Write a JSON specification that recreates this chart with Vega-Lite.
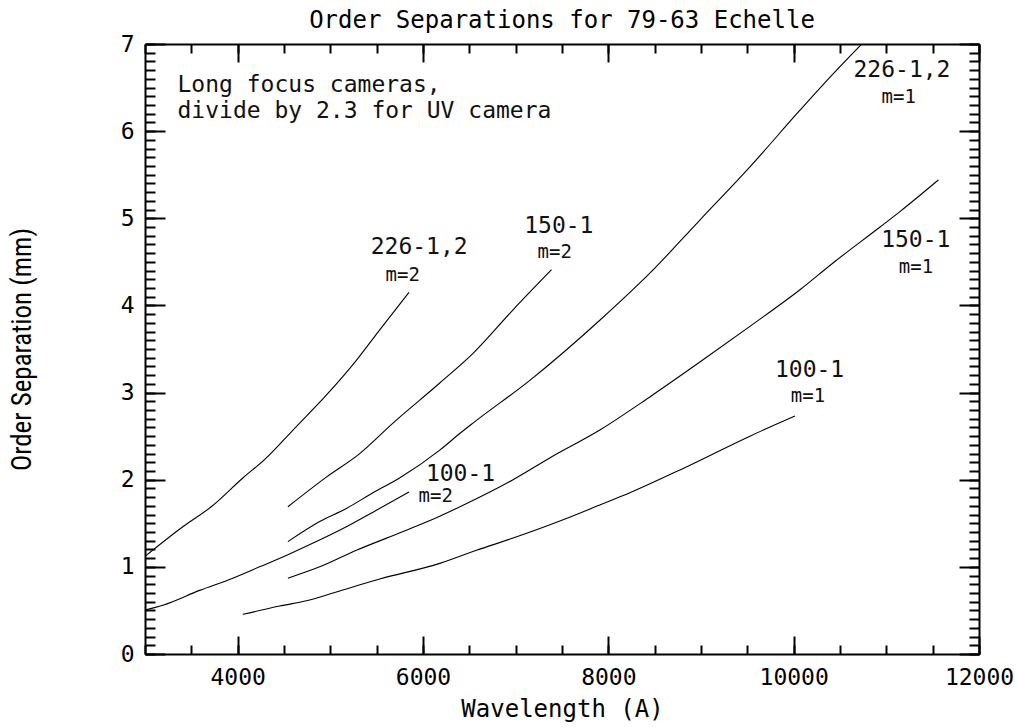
{
  "$schema": "https://vega.github.io/schema/vega-lite/v6.json",
  "autosize": "none",
  "width": 834,
  "height": 610,
  "padding": {"left": 145, "top": 44, "right": 39, "bottom": 73},
  "background": "white",
  "title": {"text": "Order Separations for 79-63 Echelle", "font": "DejaVu Sans Mono", "fontSize": 24, "fontWeight": "normal", "anchor": "middle", "frame": "group", "offset": 0, "color": "black"},
  "datasets": {
    "curves": [
      {"s": "226-1,2 m=2", "w": 3000, "sep": 1.12},
      {"s": "226-1,2 m=2", "w": 3408, "sep": 1.46},
      {"s": "226-1,2 m=2", "w": 3715, "sep": 1.69},
      {"s": "226-1,2 m=2", "w": 4056, "sep": 2.02},
      {"s": "226-1,2 m=2", "w": 4290, "sep": 2.23},
      {"s": "226-1,2 m=2", "w": 4633, "sep": 2.61},
      {"s": "226-1,2 m=2", "w": 4939, "sep": 2.95},
      {"s": "226-1,2 m=2", "w": 5281, "sep": 3.37},
      {"s": "226-1,2 m=2", "w": 5533, "sep": 3.72},
      {"s": "226-1,2 m=2", "w": 5849, "sep": 4.15},
      {"s": "150-1 m=2", "w": 4542, "sep": 1.69},
      {"s": "150-1 m=2", "w": 4957, "sep": 2.03},
      {"s": "150-1 m=2", "w": 5317, "sep": 2.3},
      {"s": "150-1 m=2", "w": 5676, "sep": 2.65},
      {"s": "150-1 m=2", "w": 6181, "sep": 3.11},
      {"s": "150-1 m=2", "w": 6540, "sep": 3.45},
      {"s": "150-1 m=2", "w": 6972, "sep": 3.95},
      {"s": "150-1 m=2", "w": 7387, "sep": 4.41},
      {"s": "226-1,2 m=1", "w": 4542, "sep": 1.29},
      {"s": "226-1,2 m=1", "w": 4885, "sep": 1.52},
      {"s": "226-1,2 m=1", "w": 5173, "sep": 1.67},
      {"s": "226-1,2 m=1", "w": 5460, "sep": 1.85},
      {"s": "226-1,2 m=1", "w": 5747, "sep": 2.02},
      {"s": "226-1,2 m=1", "w": 6181, "sep": 2.34},
      {"s": "226-1,2 m=1", "w": 6397, "sep": 2.53},
      {"s": "226-1,2 m=1", "w": 6540, "sep": 2.65},
      {"s": "226-1,2 m=1", "w": 7153, "sep": 3.14},
      {"s": "226-1,2 m=1", "w": 7908, "sep": 3.83},
      {"s": "226-1,2 m=1", "w": 8448, "sep": 4.37},
      {"s": "226-1,2 m=1", "w": 8988, "sep": 4.98},
      {"s": "226-1,2 m=1", "w": 9528, "sep": 5.59},
      {"s": "226-1,2 m=1", "w": 10068, "sep": 6.24},
      {"s": "226-1,2 m=1", "w": 10428, "sep": 6.66},
      {"s": "226-1,2 m=1", "w": 10735, "sep": 7.0},
      {"s": "100-1 m=2", "w": 3000, "sep": 0.505},
      {"s": "100-1 m=2", "w": 3192, "sep": 0.56},
      {"s": "100-1 m=2", "w": 3589, "sep": 0.73},
      {"s": "100-1 m=2", "w": 3948, "sep": 0.87},
      {"s": "100-1 m=2", "w": 4236, "sep": 1.0},
      {"s": "100-1 m=2", "w": 4542, "sep": 1.14},
      {"s": "100-1 m=2", "w": 4849, "sep": 1.29},
      {"s": "100-1 m=2", "w": 5173, "sep": 1.46},
      {"s": "100-1 m=2", "w": 5497, "sep": 1.65},
      {"s": "100-1 m=2", "w": 5849, "sep": 1.86},
      {"s": "150-1 m=1", "w": 4542, "sep": 0.87},
      {"s": "150-1 m=1", "w": 4885, "sep": 1.0},
      {"s": "150-1 m=1", "w": 5281, "sep": 1.19},
      {"s": "150-1 m=1", "w": 5821, "sep": 1.42},
      {"s": "150-1 m=1", "w": 6181, "sep": 1.58},
      {"s": "150-1 m=1", "w": 6361, "sep": 1.67},
      {"s": "150-1 m=1", "w": 6972, "sep": 2.0},
      {"s": "150-1 m=1", "w": 7368, "sep": 2.25},
      {"s": "150-1 m=1", "w": 7908, "sep": 2.57},
      {"s": "150-1 m=1", "w": 8448, "sep": 2.95},
      {"s": "150-1 m=1", "w": 8988, "sep": 3.35},
      {"s": "150-1 m=1", "w": 9528, "sep": 3.76},
      {"s": "150-1 m=1", "w": 10068, "sep": 4.18},
      {"s": "150-1 m=1", "w": 10428, "sep": 4.49},
      {"s": "150-1 m=1", "w": 10932, "sep": 4.9},
      {"s": "150-1 m=1", "w": 11150, "sep": 5.08},
      {"s": "150-1 m=1", "w": 11562, "sep": 5.44},
      {"s": "100-1 m=1", "w": 4056, "sep": 0.455},
      {"s": "100-1 m=1", "w": 4453, "sep": 0.55},
      {"s": "100-1 m=1", "w": 4777, "sep": 0.62},
      {"s": "100-1 m=1", "w": 5028, "sep": 0.7},
      {"s": "100-1 m=1", "w": 5533, "sep": 0.86},
      {"s": "100-1 m=1", "w": 6181, "sep": 1.04},
      {"s": "100-1 m=1", "w": 6577, "sep": 1.19},
      {"s": "100-1 m=1", "w": 6972, "sep": 1.33},
      {"s": "100-1 m=1", "w": 7512, "sep": 1.54},
      {"s": "100-1 m=1", "w": 7908, "sep": 1.71},
      {"s": "100-1 m=1", "w": 8232, "sep": 1.85},
      {"s": "100-1 m=1", "w": 8808, "sep": 2.13},
      {"s": "100-1 m=1", "w": 9528, "sep": 2.5},
      {"s": "100-1 m=1", "w": 10014, "sep": 2.73}
    ],
    "names": [
      {"t": "226-1,2", "w": 5959, "sep": 4.59},
      {"t": "150-1", "w": 7466, "sep": 4.83},
      {"t": "100-1", "w": 6405, "sep": 1.985},
      {"t": "226-1,2", "w": 11169, "sep": 6.625},
      {"t": "150-1", "w": 11318, "sep": 4.667},
      {"t": "100-1", "w": 10172, "sep": 3.175}
    ],
    "orders": [
      {"t": "m=2", "w": 5781, "sep": 4.28},
      {"t": "m=2", "w": 7422, "sep": 4.54},
      {"t": "m=2", "w": 6137, "sep": 1.75},
      {"t": "m=1", "w": 11133, "sep": 6.32},
      {"t": "m=1", "w": 11320, "sep": 4.376},
      {"t": "m=1", "w": 10154, "sep": 2.895}
    ],
    "note": [
      {"t": "Long focus cameras,", "w": 3351, "sep": 6.45},
      {"t": "divide by 2.3 for UV camera", "w": 3351, "sep": 6.15}
    ]
  },
  "layer": [
    {
      "data": {"name": "curves"},
      "mark": {"type": "line", "color": "black", "strokeWidth": 1.1, "interpolate": "monotone", "clip": true},
      "encoding": {
        "x": {"field": "w", "type": "quantitative",
              "scale": {"domain": [3000, 12000], "nice": false, "zero": false},
              "axis": {"orient": "bottom", "tickCount": 5, "tickSize": -18, "tickWidth": 2, "domain": true, "domainWidth": 2,
                       "labelPadding": 30, "labelFont": "DejaVu Sans Mono", "labelFontSize": 23, "labelFlush": false, "labelOverlap": false, "format": "d",
                       "grid": false, "title": "Wavelength (A)", "titleFont": "DejaVu Sans Mono", "titleFontSize": 24, "titleFontWeight": "normal",
                       "titleY": 43, "titleBaseline": "top", "titleAnchor": "middle"}},
        "y": {"field": "sep", "type": "quantitative",
              "scale": {"domain": [0, 7], "nice": false, "zero": false},
              "axis": {"orient": "left", "tickCount": 7, "tickSize": -20, "tickWidth": 2, "domain": true, "domainWidth": 2,
                       "labelPadding": 31, "labelFont": "DejaVu Sans Mono", "labelFontSize": 23, "labelFlush": false, "labelOverlap": false, "format": "d",
                       "grid": false, "title": "Order Separation (mm)", "titleFont": "Liberation Sans Narrow, Roboto Condensed, DejaVu Sans Condensed, Liberation Sans",
                       "titleFontSize": 27, "titleFontWeight": "normal", "titleAngle": 270, "titleX": -123, "titleY": 305,
                       "titleAlign": "center", "titleBaseline": "middle"}},
        "detail": {"field": "s"}
      }
    },
    {
      "data": {"name": "names"},
      "mark": {"type": "text", "font": "DejaVu Sans Mono", "fontSize": 23, "align": "center", "baseline": "alphabetic", "color": "#111"},
      "encoding": {
        "x": {"field": "w", "type": "quantitative", "scale": {"domain": [3000, 12000], "nice": false, "zero": false},
              "axis": {"orient": "bottom", "tickCount": 18, "tickSize": -9, "tickWidth": 2, "domain": false, "labels": false, "grid": false, "title": null}},
        "y": {"field": "sep", "type": "quantitative", "scale": {"domain": [0, 7], "nice": false, "zero": false},
              "axis": {"orient": "left", "tickCount": 70, "tickSize": -10, "tickWidth": 2, "domain": false, "labels": false, "grid": false, "title": null}},
        "text": {"field": "t"}
      }
    },
    {
      "data": {"name": "orders"},
      "mark": {"type": "text", "font": "DejaVu Sans Mono", "fontSize": 19, "align": "center", "baseline": "alphabetic", "color": "#111"},
      "encoding": {
        "x": {"field": "w", "type": "quantitative", "scale": {"domain": [3000, 12000], "nice": false, "zero": false},
              "axis": {"orient": "top", "tickCount": 5, "tickSize": -18, "tickWidth": 2, "domain": true, "domainWidth": 2, "labels": false, "grid": false, "title": null}},
        "y": {"field": "sep", "type": "quantitative", "scale": {"domain": [0, 7], "nice": false, "zero": false},
              "axis": {"orient": "right", "tickCount": 7, "tickSize": -20, "tickWidth": 2, "domain": true, "domainWidth": 2, "labels": false, "grid": false, "title": null}},
        "text": {"field": "t"}
      }
    },
    {
      "data": {"name": "note"},
      "mark": {"type": "text", "font": "DejaVu Sans Mono", "fontSize": 23, "align": "left", "baseline": "alphabetic", "color": "#111"},
      "encoding": {
        "x": {"field": "w", "type": "quantitative", "scale": {"domain": [3000, 12000], "nice": false, "zero": false},
              "axis": {"orient": "top", "tickCount": 18, "tickSize": -9, "tickWidth": 2, "domain": false, "labels": false, "grid": false, "title": null}},
        "y": {"field": "sep", "type": "quantitative", "scale": {"domain": [0, 7], "nice": false, "zero": false},
              "axis": {"orient": "right", "tickCount": 70, "tickSize": -10, "tickWidth": 2, "domain": false, "labels": false, "grid": false, "title": null}},
        "text": {"field": "t"}
      }
    }
  ],
  "resolve": {"axis": {"x": "independent", "y": "independent"}},
  "config": {
    "view": {"stroke": null},
    "axis": {"domainColor": "black", "tickColor": "black", "labelColor": "black", "titleColor": "black"}
  }
}
